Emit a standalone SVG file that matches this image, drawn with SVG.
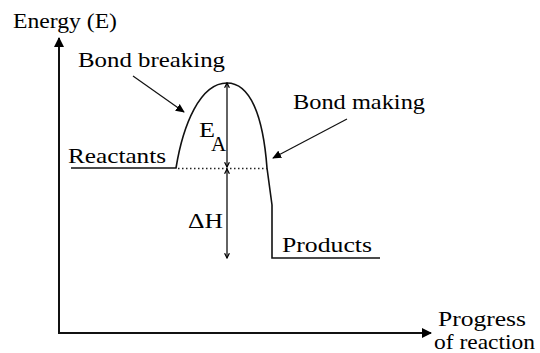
<svg xmlns="http://www.w3.org/2000/svg" width="540" height="353" viewBox="0 0 540 353">
<style>
text{font-family:"Liberation Serif","Times New Roman",serif;font-size:21px;fill:#000}
.ax{stroke:#111;stroke-width:2;fill:none}
.cv{stroke:#111;stroke-width:1.6;fill:none}
.pt{stroke:#111;stroke-width:1.2;fill:none}
.dim{stroke:#222;stroke-width:1.4;fill:none}
</style>
<defs>
<marker id="big" viewBox="0 0 10 10" refX="9" refY="5" markerWidth="10" markerHeight="10" markerUnits="userSpaceOnUse" orient="auto">
<path d="M0,0 L10,5 L0,10 Z" fill="#000"/>
</marker>
<marker id="ptr" viewBox="0 0 10 10" refX="9" refY="5" markerWidth="9" markerHeight="9" markerUnits="userSpaceOnUse" orient="auto">
<path d="M0,0.5 L10,5 L0,9.5 Z" fill="#000"/>
</marker>
<marker id="chev" viewBox="0 0 10 10" refX="9" refY="5" markerWidth="6" markerHeight="6" markerUnits="userSpaceOnUse" orient="auto">
<path d="M1,1 L9,5 L1,9" fill="none" stroke="#000" stroke-width="2"/>
</marker>
</defs>
<rect width="540" height="353" fill="#fff"/>
<g id="connectors">
<line class="ax" x1="59" y1="334" x2="59" y2="38" marker-end="url(#big)"/>
<line class="ax" x1="58" y1="333" x2="431" y2="333" marker-end="url(#big)"/>
<path class="cv" d="M71,168 L176,168 C183,125 200,83 227,83 C250,83 263,115 267,168 L272,205 L272,258 L380,258"/>
<line x1="178" y1="168.5" x2="267" y2="168.5" stroke="#222" stroke-width="1.3" stroke-dasharray="1.5,2.5"/>
<line class="dim" x1="227" y1="125" x2="227" y2="83" marker-end="url(#chev)"/>
<line class="dim" x1="227" y1="125" x2="227" y2="167" marker-end="url(#chev)"/>
<line class="dim" x1="227" y1="210" x2="227" y2="169" marker-end="url(#chev)"/>
<line class="dim" x1="227" y1="210" x2="227" y2="258" marker-end="url(#chev)"/>
<line class="pt" x1="133" y1="76" x2="184" y2="112" marker-end="url(#ptr)"/>
<line class="pt" x1="347" y1="119" x2="273" y2="158" marker-end="url(#ptr)"/>
</g>
<g id="energy-axis-label"><text x="13" y="28" textLength="104" lengthAdjust="spacingAndGlyphs">Energy (E)</text></g>
<g id="bond-breaking"><text x="78" y="67" textLength="147" lengthAdjust="spacingAndGlyphs">Bond breaking</text></g>
<g id="bond-making"><text x="293" y="109" textLength="132" lengthAdjust="spacingAndGlyphs">Bond making</text></g>
<g id="reactants"><text x="68" y="163" textLength="98" lengthAdjust="spacingAndGlyphs">Reactants</text></g>
<g id="products"><text x="282" y="252" textLength="90" lengthAdjust="spacingAndGlyphs">Products</text></g>
<g id="activation-energy"><text x="199" y="137" textLength="16" lengthAdjust="spacingAndGlyphs">E</text><text x="211" y="151" font-size="15">A</text></g>
<g id="delta-h"><text x="188" y="228" textLength="35" lengthAdjust="spacingAndGlyphs">ΔH</text></g>
<g id="progress-axis-label">
<text x="438" y="326" font-size="20" textLength="88" lengthAdjust="spacingAndGlyphs">Progress</text>
<text x="434" y="349" font-size="20" textLength="101" lengthAdjust="spacingAndGlyphs">of reaction</text>
</g>
</svg>
